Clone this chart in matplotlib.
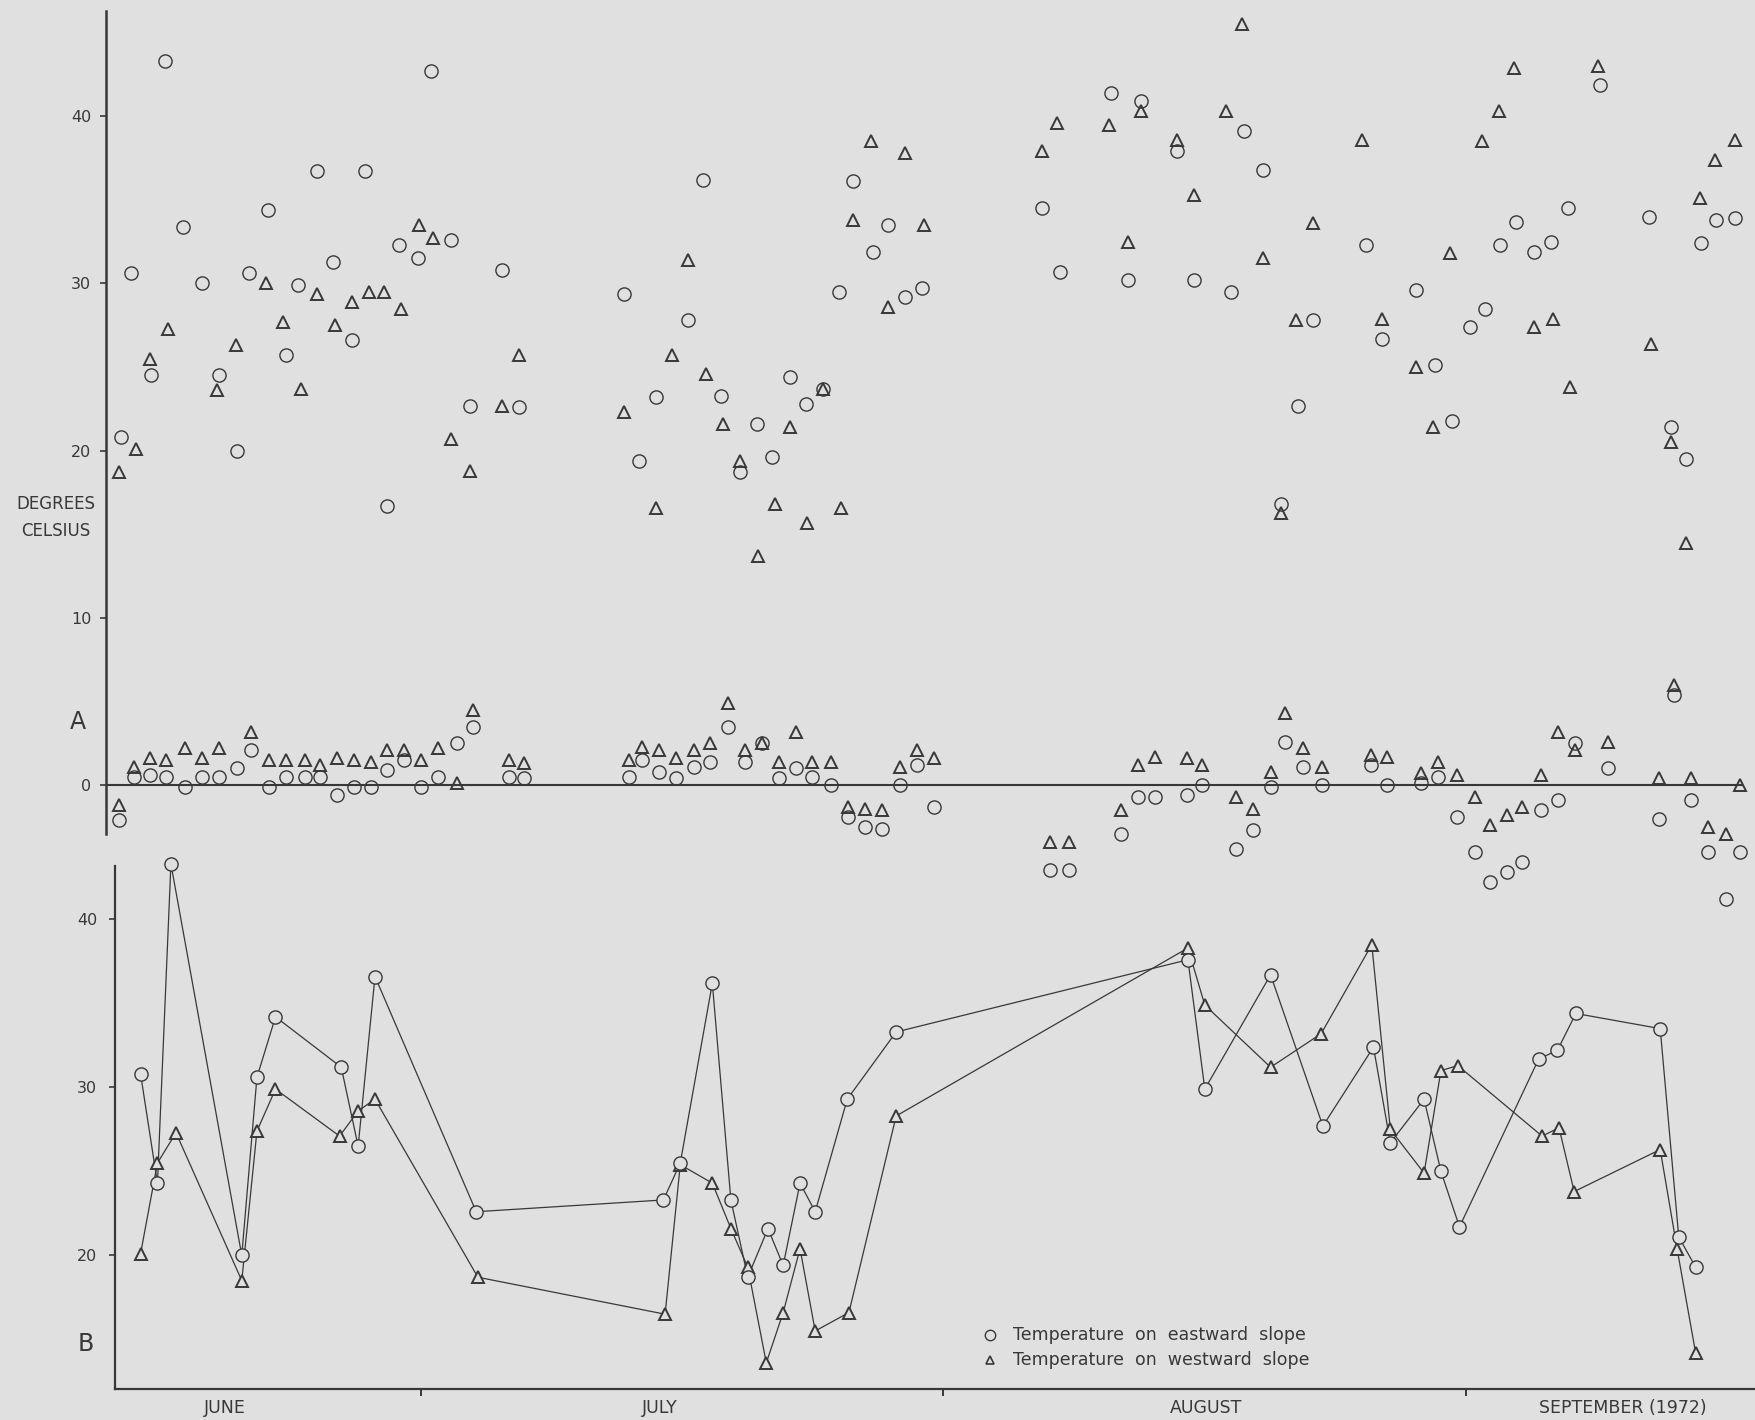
import numpy as np
import matplotlib
matplotlib.use("Agg")
import matplotlib.pyplot as plt
from matplotlib.lines import Line2D
from matplotlib.transforms import blended_transform_factory

# Slope temperatures, summer 1972. x = days counted from 1 June (July 1 = 30).
# Panel A: daily highs (upper group) and lows (near zero) on both slopes.
a_high_east_day = [11.7, 12.3, 13.5, 14.3, 15.4, 16.5, 17.5, 18.6, 19.3, 20.4, 21.5, 22.2,
                   23.3, 24.3, 25.4, 26.2, 27.5, 28.2, 29.3, 30.1, 31.3, 32.4, 34.3, 35.3,
                   41.5, 42.4, 43.4, 45.3, 46.2, 47.3, 48.4, 49.4, 50.3, 51.4, 52.3, 53.3,
                   54.3, 55.1, 56.3, 57.2, 58.2, 59.2, 66.3, 67.4, 70.4, 71.4, 72.2, 74.3,
                   75.3, 77.5, 78.3, 79.4, 80.5, 81.5, 82.4, 85.5, 86.5, 88.5, 89.6, 90.6,
                   91.7, 92.6, 93.5, 94.4, 95.5, 96.5, 97.5, 99.4, 102.3, 103.6, 104.5, 105.4,
                   106.3, 107.4]
a_high_east = [20.8, 30.6, 24.5, 43.3, 33.4, 30.0, 24.5, 20.0, 30.6, 34.4, 25.7, 29.9,
               36.7, 31.3, 26.6, 36.7, 16.7, 32.3, 31.5, 42.7, 32.6, 22.7, 30.8, 22.6,
               29.4, 19.4, 23.2, 27.8, 36.2, 23.3, 18.7, 21.6, 19.6, 24.4, 22.8, 23.7,
               29.5, 36.1, 31.9, 33.5, 29.2, 29.7, 34.5, 30.7, 41.4, 30.2, 40.9, 37.9,
               30.2, 29.5, 39.1, 36.8, 16.8, 22.7, 27.8, 32.3, 26.7, 29.6, 25.1, 21.8,
               27.4, 28.5, 32.3, 33.7, 31.9, 32.5, 34.5, 41.9, 34.0, 21.4, 19.5, 32.4,
               33.8, 33.9]

a_high_west_day = [11.6, 12.6, 13.4, 14.5, 17.4, 18.5, 20.3, 21.3, 22.4, 23.3, 24.4, 25.4,
                   26.4, 27.3, 28.3, 29.4, 30.2, 31.3, 32.4, 34.3, 35.3, 41.5, 43.4, 44.4,
                   45.3, 46.4, 47.4, 48.4, 49.5, 50.5, 51.4, 52.4, 53.3, 54.4, 55.1, 56.2,
                   57.2, 58.2, 59.3, 66.3, 67.2, 70.3, 71.4, 72.2, 74.3, 75.3, 77.2, 78.2,
                   79.4, 80.5, 81.4, 82.4, 85.3, 86.5, 88.5, 89.5, 90.5, 92.4, 93.4, 94.3,
                   95.5, 96.6, 97.6, 99.3, 102.4, 103.6, 104.5, 105.3, 106.2, 107.4]
a_high_west = [18.7, 20.1, 25.5, 27.3, 23.6, 26.3, 30.0, 27.7, 23.7, 29.4, 27.5, 28.9,
               29.5, 29.5, 28.5, 33.5, 32.7, 20.7, 18.8, 22.7, 25.7, 22.3, 16.6, 25.7,
               31.4, 24.6, 21.6, 19.4, 13.7, 16.8, 21.4, 15.7, 23.7, 16.6, 33.8, 38.5,
               28.6, 37.8, 33.5, 37.9, 39.6, 39.5, 32.5, 40.3, 38.6, 35.3, 40.3, 45.5,
               31.5, 16.3, 27.8, 33.6, 38.6, 27.9, 25.0, 21.4, 31.8, 38.5, 40.3, 42.9,
               27.4, 27.9, 23.8, 43.0, 26.4, 20.5, 14.5, 35.1, 37.4, 38.6]

a_low_day = [11.6, 12.5, 13.4, 14.4, 15.5, 16.5, 17.5, 18.6, 19.4, 20.5, 21.5, 22.6,
             23.5, 24.5, 25.5, 26.5, 27.5, 28.5, 29.5, 30.5, 31.6, 32.6, 34.7, 35.6,
             41.8, 42.6, 43.6, 44.6, 45.7, 46.6, 47.7, 48.7, 49.7, 50.7, 51.7, 52.7,
             53.8, 54.8, 55.8, 56.8, 57.9, 58.9, 59.9, 66.8, 67.9, 71.0, 72.0, 73.0,
             74.9, 75.8, 77.8, 78.8, 79.9, 80.7, 81.8, 82.9, 85.8, 86.8, 88.8, 89.8,
             90.9, 92.0, 92.9, 93.9, 94.8, 95.9, 96.9, 97.9, 99.9, 102.9, 103.8, 104.8,
             105.8, 106.9, 107.7]
a_low_east = [-2.1, 0.5, 0.6, 0.5, -0.1, 0.5, 0.5, 1.0, 2.1, -0.1, 0.5, 0.5,
              0.5, -0.6, -0.1, -0.1, 0.9, 1.5, -0.1, 0.5, 2.5, 3.5, 0.5, 0.4,
              0.5, 1.5, 0.8, 0.4, 1.1, 1.4, 3.5, 1.4, 2.5, 0.4, 1.0, 0.5,
              0.0, -1.9, -2.5, -2.6, 0.0, 1.2, -1.3, -5.1, -5.1, -2.9, -0.7, -0.7,
              -0.6, 0.0, -3.8, -2.7, -0.1, 2.6, 1.1, 0.0, 1.2, 0.0, 0.1, 0.5,
              -1.9, -4.0, -5.8, -5.2, -4.6, -1.5, -0.9, 2.5, 1.0, -2.0, 5.4, -0.9,
              -4.0, -6.8, -4.0]
a_low_west = [-1.2, 1.1, 1.6, 1.5, 2.2, 1.6, 2.2, np.nan, 3.2, 1.5, 1.5, 1.5,
              1.2, 1.6, 1.5, 1.4, 2.1, 2.1, 1.5, 2.2, 0.1, 4.5, 1.5, 1.3,
              1.5, 2.3, 2.1, 1.6, 2.1, 2.5, 4.9, 2.1, 2.5, 1.4, 3.2, 1.4,
              1.4, -1.3, -1.4, -1.5, 1.1, 2.1, 1.6, -3.4, -3.4, -1.5, 1.2, 1.7,
              1.6, 1.2, -0.7, -1.4, 0.8, 4.3, 2.2, 1.1, 1.8, 1.7, 0.7, 1.4,
              0.6, -0.7, -2.4, -1.8, -1.3, 0.6, 3.2, 2.1, 2.6, 0.4, 6.0, 0.4,
              -2.5, -2.9, 0.0]

# Panel B: single readings joined day to day
b_east_day = [13.4, 14.4, 15.2, 19.4, 20.3, 21.4, 25.3, 26.3, 27.3, 33.3, 44.4, 45.4,
              47.3, 48.4, 49.4, 50.6, 51.5, 52.5, 53.4, 55.3, 58.2, 75.5, 76.5, 80.4,
              83.5, 86.5, 87.5, 89.5, 90.5, 91.6, 96.3, 97.4, 98.5, 103.5, 104.6, 105.6]
b_east = [30.8, 24.3, 43.3, 20.0, 30.6, 34.2, 31.2, 26.5, 36.6, 22.6, 23.3, 25.5,
          36.2, 23.3, 18.7, 21.6, 19.4, 24.3, 22.6, 29.3, 33.3, 37.6, 29.9, 36.7,
          27.7, 32.4, 26.7, 29.3, 25.0, 21.7, 31.7, 32.2, 34.4, 33.5, 21.1, 19.3]

b_west_day = [13.4, 14.4, 15.5, 19.4, 20.3, 21.4, 25.2, 26.3, 27.3, 33.4, 44.5, 45.4,
              47.3, 48.4, 49.4, 50.5, 51.5, 52.5, 53.4, 55.4, 58.2, 75.5, 76.5, 80.4,
              83.4, 86.4, 87.5, 89.5, 90.5, 91.5, 96.5, 97.5, 98.4, 103.5, 104.5, 105.6]
b_west = [20.1, 25.5, 27.3, 18.5, 27.4, 29.9, 27.1, 28.6, 29.3, 18.7, 16.5, 25.4,
          24.3, 21.6, 19.3, 13.6, 16.6, 20.4, 15.5, 16.6, 28.3, 38.3, 34.9, 31.2,
          33.2, 38.5, 27.5, 24.9, 31.0, 31.3, 27.1, 27.6, 23.8, 26.3, 20.4, 14.2]

month_starts = [30, 61, 92]
month_names = ["JUNE", "JULY", "AUGUST", "SEPTEMBER (1972)"]
month_label_day = [18.4, 44.2, 76.6, 101.3]

BG = "#e0e0e0"
INK = "#383838"
plt.rcParams["font.family"] = ["DejaVu Sans"]

circ = dict(marker="o", ms=9.5, mec=INK, mew=1.0, ls="none")
tri = dict(marker="^", ms=8.5, mec=INK, mew=1.4, ls="none")

fig = plt.figure(figsize=(17.56, 14.2), dpi=100, facecolor=BG)

# ---- panel A
ax_a = fig.add_axes([0.0606, 0.3588, 0.9394, 0.6335])
ax_a.set_facecolor("none")
ax_a.set_xlim(10.84, 108.65)
ax_a.set_ylim(-7.5, 46.3)
for s in ("top", "right", "bottom"):
    ax_a.spines[s].set_visible(False)
ax_a.spines["left"].set_bounds(-2.95, 46.3)
ax_a.spines["left"].set_linewidth(1.8)
ax_a.spines["left"].set_color(INK)
ax_a.set_xticks([])
ax_a.set_yticks([0, 10, 20, 30, 40])
ax_a.tick_params(axis="y", direction="out", length=4, width=1.2, pad=7,
                 labelsize=11.5, colors=INK)
ax_a.plot([10.84, 107.8], [0, 0], color=INK, lw=1.5, zorder=1)

ax_a.plot(a_high_west_day, a_high_west, mfc="none", clip_on=False, **tri)
ax_a.plot(a_high_east_day, a_high_east, mfc="none", clip_on=False, **circ)
ax_a.plot(a_low_day, a_low_west, mfc="none", clip_on=False, **tri)
ax_a.plot(a_low_day, a_low_east, mfc="none", clip_on=False, **circ)

# ---- panel B
ax_b = fig.add_axes([0.0657, 0.0221, 0.9343, 0.3742])
ax_b.set_facecolor("none")
ax_b.set_xlim(11.906, 109.18)
ax_b.set_ylim(12.07, 43.7)
for s in ("top", "right"):
    ax_b.spines[s].set_visible(False)
ax_b.spines["left"].set_bounds(12.07, 43.15)
for s in ("left", "bottom"):
    ax_b.spines[s].set_linewidth(1.6)
    ax_b.spines[s].set_color(INK)
ax_b.set_yticks([20, 30, 40])
ax_b.set_xticks(month_starts)
ax_b.set_xticklabels([])
ax_b.tick_params(axis="y", direction="out", length=4, width=1.2, pad=9,
                 labelsize=11.5, colors=INK)
ax_b.tick_params(axis="x", direction="out", length=5, width=1.4, colors=INK)

ax_b.plot(b_west_day, b_west, color=INK, lw=0.9, zorder=2)
ax_b.plot(b_east_day, b_east, color=INK, lw=0.9, zorder=2)
ax_b.plot(b_west_day, b_west, mfc=BG, zorder=3, clip_on=False, **tri)
ax_b.plot(b_east_day, b_east, mfc=BG, zorder=3, clip_on=False, **circ)

# month names under the time axis
tr = blended_transform_factory(ax_b.transData, fig.transFigure)
for d, name in zip(month_label_day, month_names):
    ax_b.text(d, 0.0085, name, transform=tr, ha="center", va="center",
              fontsize=12.5, color=INK, clip_on=False)

# axis titles and panel letters
fig.text(0.0319, 0.6451, "DEGREES", ha="center", va="center", fontsize=12, color=INK)
fig.text(0.0319, 0.6261, "CELSIUS", ha="center", va="center", fontsize=12, color=INK)
fig.text(0.0444, 0.4915, "A", ha="center", va="center", fontsize=17, color=INK)
fig.text(0.0490, 0.0535, "B", ha="center", va="center", fontsize=17, color=INK)

# key
fig.add_artist(Line2D([0.5638], [0.0599], transform=fig.transFigure, marker="o",
                      ms=7.5, mfc="none", mec=INK, mew=1.0))
fig.add_artist(Line2D([0.5638], [0.0420], transform=fig.transFigure, marker="^",
                      ms=6, mfc="none", mec=INK, mew=1.2))
fig.text(0.5769, 0.0599, "Temperature  on  eastward  slope", ha="left", va="center",
         fontsize=12.5, color=INK)
fig.text(0.5769, 0.0423, "Temperature  on  westward  slope", ha="left", va="center",
         fontsize=12.5, color=INK)

fig.savefig("out.png", dpi=100, facecolor=BG)
